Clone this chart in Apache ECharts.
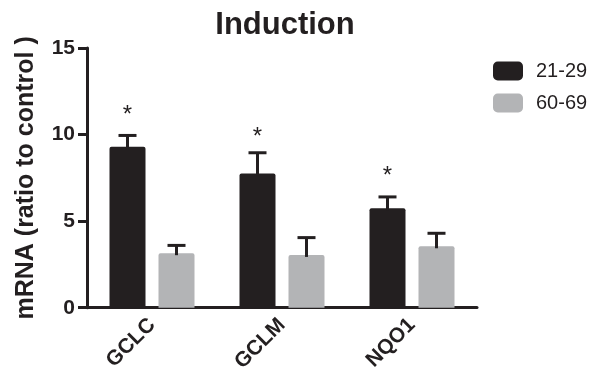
<!DOCTYPE html>
<html>
<head>
<meta charset="utf-8">
<script src="https://cdn.jsdelivr.net/npm/echarts@6/dist/echarts.min.js"></script>
<style>html,body{margin:0;padding:0;background:#fff}#c{width:590px;height:375px}</style>
</head>
<body>
<div id="c"></div>
<script>
var categories = ['GCLC', 'GCLM', 'NQO1'];
var seriesNames = ['21-29', '60-69'];
var young = [9.3, 7.75, 5.75];
var youngErr = [0.65, 1.2, 0.65];
var old = [3.15, 3.05, 3.55];
var oldErr = [0.45, 1.0, 0.75];
var starValues = [11.4, 10.1, 7.9];
var yTicks = [0, 5, 10, 15];

var BLACK = '#231F20', GRAY = '#B3B4B6';
var BAR_W = 36, BAR_GAP = 13;
var OFFSET = (BAR_W + BAR_GAP) / 2;
var FONT = 'Liberation Sans, Arial, sans-serif';

function errSeries(vals, errs, dir, color) {
  return {
    type: 'custom',
    z: 5,
    silent: true,
    data: vals.map(function (v, i) { return [i, v, v + errs[i]]; }),
    renderItem: function (params, api) {
      var base = api.coord([api.value(0), api.value(1)]);
      var top = api.coord([api.value(0), api.value(2)]);
      var x = base[0] + dir * OFFSET;
      return {
        type: 'group',
        children: [
          { type: 'line', shape: { x1: x, y1: base[1] + 2, x2: x, y2: top[1] }, style: { stroke: BLACK, lineWidth: 3 } },
          { type: 'line', shape: { x1: x - 9, y1: top[1], x2: x + 9, y2: top[1] }, style: { stroke: BLACK, lineWidth: 3 } }
        ]
      };
    }
  };
}

var chart = echarts.init(document.getElementById('c'), null, { renderer: 'canvas' });
chart.setOption({
  animation: false,
  backgroundColor: '#fff',
  title: {
    text: 'Induction', left: 280, top: 5, textAlign: 'center',
    textStyle: { fontFamily: FONT, fontSize: 31, fontWeight: 'bold', color: '#231F20' }
  },
  legend: {
    data: seriesNames, orient: 'vertical', left: 488, top: 56,
    itemWidth: 30, itemHeight: 19, itemGap: 12,
    textStyle: { fontFamily: FONT, fontSize: 20, color: '#231F20', padding: [0, 0, 0, 8] },
    icon: 'roundRect'
  },
  grid: { left: 87, right: 113, top: 48, bottom: 66 },
  xAxis: {
    type: 'category', data: categories,
    axisLine: { lineStyle: { color: BLACK, width: 3 } },
    axisTick: { alignWithLabel: true, length: 9, lineStyle: { width: 3, color: BLACK } },
    axisLabel: { rotate: 45, margin: 14, fontFamily: FONT, fontSize: 21, fontWeight: 'bold', color: '#231F20' }
  },
  yAxis: {
    type: 'value', min: 0, max: 15, interval: 5,
    name: 'mRNA (ratio to control )', nameLocation: 'middle', nameGap: 48, nameRotate: 90,
    nameTextStyle: { fontFamily: FONT, fontSize: 25, fontWeight: 'bold', color: '#231F20' },
    axisLine: { show: true, lineStyle: { color: BLACK, width: 3 } },
    axisTick: { show: true, length: 9, lineStyle: { width: 3, color: BLACK } },
    splitLine: { show: false },
    axisLabel: {
      margin: 12, fontFamily: FONT, fontSize: 21, fontWeight: 'bold', color: '#231F20',
      formatter: function (v) { return yTicks.indexOf(v) >= 0 ? String(v) : ''; }
    }
  },
  series: [
    { name: seriesNames[0], type: 'bar', data: young, barWidth: BAR_W, barGap: (BAR_GAP / BAR_W * 100) + '%',
      itemStyle: { color: BLACK, borderRadius: [2, 2, 0, 0] }, z: 3 },
    { name: seriesNames[1], type: 'bar', data: old, barWidth: BAR_W,
      itemStyle: { color: GRAY, borderRadius: [2, 2, 0, 0] }, z: 3 },
    errSeries(young, youngErr, -1, BLACK),
    errSeries(old, oldErr, 1, BLACK),
    {
      type: 'custom', z: 6, silent: true,
      data: starValues.map(function (v, i) { return [i, v]; }),
      renderItem: function (params, api) {
        var p = api.coord([api.value(0), api.value(1)]);
        return { type: 'text', style: { text: '*', x: p[0] - OFFSET, y: p[1] + 5, textAlign: 'center', textVerticalAlign: 'middle',
          font: '24px ' + FONT, fill: '#231F20' } };
      }
    }
  ]
});
</script>
</body>
</html>
